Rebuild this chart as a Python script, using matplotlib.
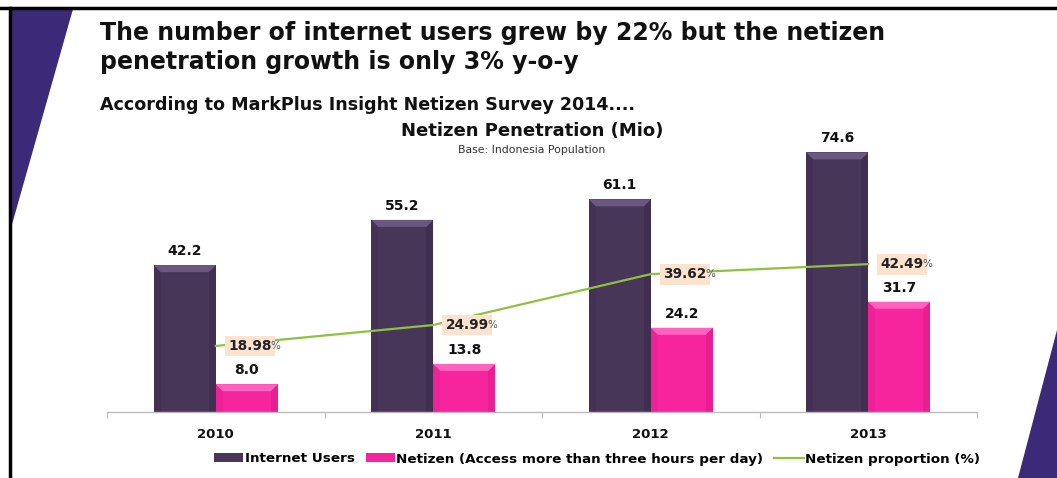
import matplotlib
matplotlib.use("Agg")
import matplotlib.pyplot as plt
from matplotlib.patches import Polygon, Patch
from matplotlib.lines import Line2D
import numpy as np

plt.rcParams['font.family'] = ['DejaVu Sans']

years = ["2010", "2011", "2012", "2013"]
internet_users = [42.2, 55.2, 61.1, 74.6]
netizens = [8.0, 13.8, 24.2, 31.7]
netizen_pct = [18.98, 24.99, 39.62, 42.49]

title = "The number of internet users grew by 22% but the netizen\npenetration growth is only 3% y-o-y"
subtitle = "According to MarkPlus Insight Netizen Survey 2014...."
chart_title = "Netizen Penetration (Mio)"
chart_sub = "Base: Indonesia Population"
legend_labels = ["Internet Users", "Netizen (Access more than three hours per day)", "Netizen proportion (%)"]

PURPLE = "#483659"
PURPLE_TOP = "#6a5880"
PURPLE_SIDE = "#3e2e4f"
PINK = "#f7259d"
PINK_TOP = "#ff62bf"
PINK_SIDE = "#e51d8f"
GREEN = "#8dc13f"
INDIGO = "#3a2a78"
PEACH = "#fbe3cf"

W, H = 1057, 478
fig = plt.figure(figsize=(W / 100, H / 100), dpi=100)
fig.patch.set_facecolor("white")

def fx(px):
    return px / W
def fy(py):
    return 1 - py / H

fig.add_artist(Polygon([(fx(11), fy(9)), (fx(73), fy(9)), (fx(11), fy(228))],
                       closed=True, transform=fig.transFigure, facecolor=INDIGO, edgecolor="none"))
fig.add_artist(Polygon([(fx(1057), fy(330)), (fx(1057), fy(478)), (fx(1018), fy(478))],
                       closed=True, transform=fig.transFigure, facecolor=INDIGO, edgecolor="none"))
fig.add_artist(Line2D([0, 1], [fy(8), fy(8)], transform=fig.transFigure, color="black", lw=2.5))
fig.add_artist(Line2D([fx(10), fx(10)], [fy(8), 0], transform=fig.transFigure, color="black", lw=2.5))

fig.text(fx(100), fy(33), title.split("\n")[0], fontsize=17, fontweight="bold", va="center", ha="left", color="#111111")
fig.text(fx(100), fy(62), title.split("\n")[1], fontsize=17, fontweight="bold", va="center", ha="left", color="#111111")
fig.text(fx(100), fy(105), subtitle, fontsize=12.6, fontweight="bold", va="center", ha="left", color="#111111")
fig.text(fx(532), fy(131), chart_title, fontsize=13, fontweight="bold", va="center", ha="center", color="#111111")
fig.text(fx(532), fy(150), chart_sub, fontsize=7.8, va="center", ha="center", color="#333333")

ax_left, ax_right = 107, 977
base_y = 412
ymax = 80
px_per_unit = 3.48
top_y = base_y - ymax * px_per_unit
ax = fig.add_axes([fx(ax_left), fy(base_y), (ax_right - ax_left) / W, (base_y - top_y) / H])
ax.set_facecolor("none")
x = np.arange(len(years))
bw = 0.285
b1 = ax.bar(x - bw / 2, internet_users, width=bw, color=PURPLE, edgecolor="none", zorder=2)
b2 = ax.bar(x + bw / 2, netizens, width=bw, color=PINK, edgecolor="none", zorder=2)

# bevel effect derived from the bar geometry
x_per_px = 1.0 / 217.5
y_per_px = 1.0 / px_per_unit
depth = 7
for bars, top_c, side_c in [(b1, PURPLE_TOP, PURPLE_SIDE), (b2, PINK_TOP, PINK_SIDE)]:
    for r in bars:
        x0, x1, h = r.get_x(), r.get_x() + r.get_width(), r.get_height()
        dx, dy = depth * x_per_px, depth * y_per_px
        ax.add_patch(Polygon([(x0, h), (x1, h), (x1 - dx, h - dy), (x0 + dx, h - dy)],
                             closed=True, facecolor=top_c, edgecolor="none", zorder=2.5))
        ax.add_patch(Polygon([(x1, h), (x1, 0), (x1 - dx, 0), (x1 - dx, h - dy)],
                             closed=True, facecolor=side_c, edgecolor="none", alpha=0.8, zorder=2.4))
        ax.add_patch(Polygon([(x0, h), (x0, 0), (x0 + dx, 0), (x0 + dx, h - dy)],
                             closed=True, facecolor=side_c, edgecolor="none", alpha=0.45, zorder=2.4))

for rect, v in zip(b1, internet_users):
    ax.annotate(f"{v:.1f}", (rect.get_x() + rect.get_width() / 2, v), xytext=(0, 5),
                textcoords="offset points", ha="center", va="bottom", fontsize=10, fontweight="bold", color="#111111")
for rect, v in zip(b2, netizens):
    ax.annotate(f"{v:.1f}", (rect.get_x() + rect.get_width() / 2, v), xytext=(0, 5),
                textcoords="offset points", ha="center", va="bottom", fontsize=10, fontweight="bold", color="#111111")

ax.plot(x, netizen_pct, color=GREEN, lw=1.6, zorder=3)
for xi, v in zip(x, netizen_pct):
    t = ax.annotate(f"{v:.2f}", (xi, v), xytext=(9, 0), textcoords="offset points",
                    ha="left", va="center", fontsize=9.8, fontweight="bold", color="#222222", zorder=4,
                    bbox=dict(boxstyle="square,pad=0.25", facecolor=PEACH, edgecolor="none"))
    ax.annotate("%", xy=(1.0, 0.5), xycoords=t, xytext=(-1, 0), textcoords="offset points",
                ha="left", va="center", fontsize=7.5, color="#555555", zorder=5)

ax.set_xlim(-0.5, len(years) - 0.5)
ax.set_ylim(0, ymax)
for s in ["top", "right", "left"]:
    ax.spines[s].set_visible(False)
ax.spines["bottom"].set_color("#bbbbbb")
ax.spines["bottom"].set_linewidth(1.0)
ax.set_yticks([])
ax.set_xticks(np.arange(-0.5, len(years), 1.0))
ax.set_xticklabels([])
ax.tick_params(axis="x", length=4, color="#bbbbbb", direction="out")
for xi, lab in zip(x, years):
    ax.annotate(lab, (xi, 0), xytext=(0, -16), textcoords="offset points", ha="center", va="center",
                fontsize=9.5, fontweight="bold", color="#111111", annotation_clip=False)

handles = [Patch(facecolor=PURPLE, edgecolor="none"), Patch(facecolor=PINK, edgecolor="none"),
           Line2D([0], [0], color=GREEN, lw=1.6)]
fig.legend(handles, legend_labels, loc="center", bbox_to_anchor=(fx(597), fy(459)), ncol=3,
           frameon=False, prop={"weight": "bold", "size": 9.7}, handlelength=2.2, handleheight=0.6,
           handletextpad=0.1, columnspacing=0.8)

fig.savefig("out.png", dpi=100)
